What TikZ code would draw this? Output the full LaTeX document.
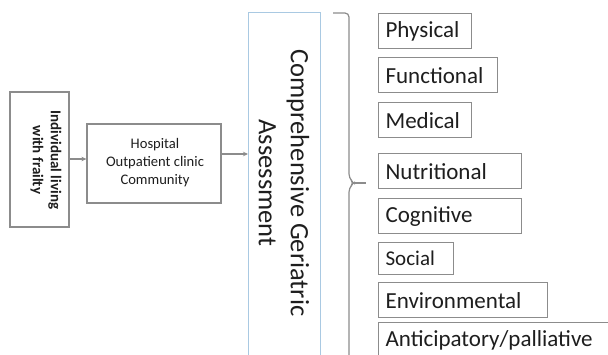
\documentclass[tikz,border=0pt]{standalone}
\usepackage{fontspec}
\setmainfont{Carlito}
\usetikzlibrary{arrows.meta}
\definecolor{boxgray}{HTML}{8C8C8C}
\definecolor{cgablue}{HTML}{A9C9E2}
\definecolor{txt}{HTML}{1E1E1E}
\begin{document}
\begin{tikzpicture}[x=1pt,y=-1pt,
  gbox/.style={draw=boxgray, line width=1.2pt, text=txt, inner sep=0pt},
  rbox/.style={gbox, anchor=north west, align=left, inner xsep=7pt,
    font=\fontsize{23}{26}\selectfont},
  conn/.style={draw=boxgray, line width=1.1pt, -{Stealth[length=5pt,width=4.5pt]}}]
\useasboundingbox (0,0) rectangle (608,354);
\clip (0,0) rectangle (608,354);
\fill[white] (0,0) rectangle (608,354);
% left box
\node[gbox, minimum width=59pt, minimum height=135pt] (ind) at (39.5,159.5) {};
\node[text=txt, rotate=-90, align=center, font=\bfseries\fontsize{15}{18}\selectfont] (indt) at (46,160) {Individual living\\with frailty};
% hospital box
\node[gbox, minimum width=134pt, minimum height=79pt] (hos) at (154,163.5) {};
\node[text=txt, align=center, font=\fontsize{14.6}{18}\selectfont] (host) at (155,162.5) {Hospital\\Outpatient clinic\\Community};
% CGA box
\node[draw=cgablue, line width=1pt, anchor=north west, minimum width=72pt, minimum height=360pt, inner sep=0pt] (cga) at (248,12) {};
\node[text=txt, rotate=-90, align=center, font=\fontsize{26.5}{32}\selectfont] (cgat) at (284,183) {Comprehensive Geriatric\\Assessment};
% connectors
\coordinate (a1) at (ind.east |- 0,159);
\coordinate (a2) at (hos.west |- 0,159);
\draw[conn] (a1) -- (a2);
\coordinate (b1) at (hos.east |- 0,154);
\coordinate (b2) at (cga.west |- 0,154);
\draw[conn] (b1) -- (b2);
% brace
\coordinate (br0) at (333,13);
\coordinate (br1) at (349,13);
\coordinate (brt) at (366,183);
\coordinate (br2) at (349,365);
\draw[draw=boxgray, line width=1.2pt, rounded corners=4pt] (br0) -- (br1) -- (349,178) -- (354,183) -- (349,188) -- (br2);
\draw[draw=boxgray, line width=1.2pt] (353,183) -- (brt);
% right boxes
\node[rbox, text width=79pt, minimum height=35pt] (phys) at (378,13) {Physical};
\node[rbox, text width=105pt, minimum height=35pt] (func) at (378,57) {Functional};
\node[rbox, text width=79pt, minimum height=35pt] (med) at (378,102) {Medical};
\node[rbox, text width=129pt, minimum height=35pt] (nut) at (378,153) {Nutritional};
\node[rbox, text width=129pt, minimum height=35pt] (cog) at (378,198) {Cognitive};
\node[rbox, text width=61pt, minimum height=32pt, font=\fontsize{21}{24}\selectfont] (soc) at (378,242) {Social};
\node[rbox, text width=155pt, minimum height=35pt] (env) at (378,282) {Environmental};
\node[rbox, text width=230pt, minimum height=35pt] (ant) at (378,322) {Anticipatory/palliative};
\end{tikzpicture}
\end{document}
